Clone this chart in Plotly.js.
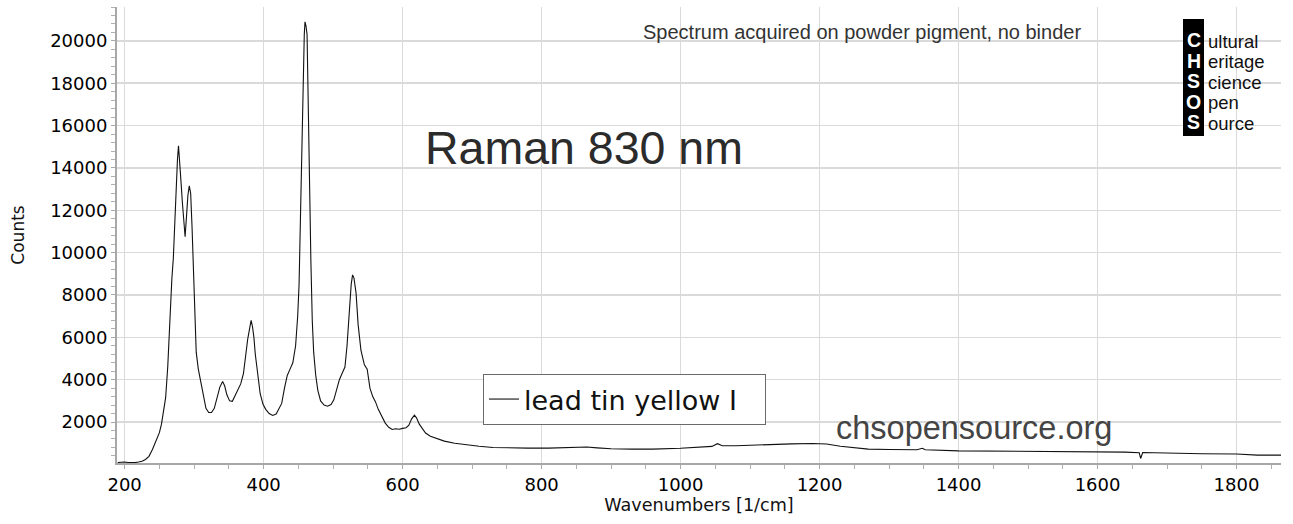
<!DOCTYPE html>
<html>
<head>
<meta charset="utf-8">
<script src="https://cdn.plot.ly/plotly-3.0.1.min.js"></script>
<style>
  html, body {margin: 0; padding: 0; background: #fff;}
  #chart {width: 1293px; height: 524px;}
</style>
</head>
<body>
<div id="chart"></div>
<script>
// Raman spectrum of lead tin yellow I
const wavenumbers = [
  190, 195, 200, 205, 210, 215, 220, 225, 230, 235, 240, 245, 250, 253, 256,
  259, 262, 264, 266, 268, 270, 272, 274, 276, 277.5, 279, 281, 283, 285, 287,
  289, 291, 293, 295, 297, 299, 301, 303, 306, 309, 313, 317, 321, 325, 329,
  333, 337, 341, 344, 347, 351, 355, 359, 363, 367, 371, 374, 377, 380, 382,
  384, 386, 388, 391, 395, 399, 403, 408, 413, 418, 422, 426, 430, 434, 438,
  442, 446, 449, 451, 453, 455, 457, 458.5, 459.5, 461, 462.5, 464, 466, 468,
  470, 472, 475, 478, 482, 487, 492, 497, 501, 505, 509, 513, 517, 520, 523,
  526, 528, 530, 533, 536, 540, 545, 549, 553, 557, 561, 565, 570, 575, 580,
  585, 590, 595, 600, 605, 609, 613, 617, 620, 624, 628, 633, 640, 650, 660,
  675, 690, 710, 730, 750, 780, 810, 840, 865, 880, 900, 930, 960, 1000, 1030,
  1045, 1053, 1060, 1080, 1100, 1130, 1160, 1190, 1210, 1230, 1250, 1270,
  1300, 1340, 1348, 1352, 1400, 1450, 1500, 1550, 1600, 1640, 1660, 1662,
  1665, 1700, 1750, 1800, 1830, 1864
];
const counts = [
  90, 110, 115, 90, 70, 85, 110, 150, 230, 380, 700, 1150, 1500, 1900, 2600,
  3150, 4600, 6000, 7700, 8800, 9700, 11500, 12900, 14400, 15050, 14500, 13400,
  12400, 11300, 10750, 11700, 12700, 13150, 12800, 11200, 9000, 6800, 5300,
  4500, 3950, 3200, 2650, 2450, 2450, 2650, 3100, 3650, 3920, 3700, 3300, 3000,
  2980, 3250, 3600, 3800, 4300, 5200, 5900, 6450, 6800, 6500, 6000, 5200, 4400,
  3350, 2850, 2600, 2400, 2310, 2380, 2600, 2880, 3600, 4200, 4500, 4800, 5600,
  7000, 8500, 12000, 15500, 18300, 20300, 20900, 20700, 20300, 17000, 13000,
  9600, 6800, 5300, 4200, 3500, 3000, 2800, 2750, 2830, 3050, 3500, 4000, 4300,
  4600, 5600, 7100, 8500, 8950, 8800, 8100, 6600, 5400, 4700, 4500, 3600, 3200,
  2950, 2600, 2250, 1950, 1750, 1650, 1680, 1660, 1700, 1730, 1850, 2150, 2330,
  2200, 1900, 1700, 1480, 1330, 1200, 1100, 1000, 930, 860, 800, 780, 770, 770,
  790, 820, 780, 740, 720, 720, 760, 810, 850, 980, 880, 880, 910, 950, 970,
  990, 960, 860, 780, 720, 700, 690, 760, 690, 640, 630, 620, 610, 600, 580,
  550, 280, 560, 530, 500, 490, 440, 440
];

const seriesName = 'lead tin yellow I';
const logoInitials = ['C', 'H', 'S', 'O', 'S'];
const logoWords = ['ultural', 'eritage', 'cience', 'pen', 'ource'];

// plot area in pixels, used to place the free text in paper coordinates
const plotLeft = 117, plotRight = 1281, plotTop = 7, plotBottom = 463;
const px = x => (x - plotLeft) / (plotRight - plotLeft);
const py = y => (plotBottom - y) / (plotBottom - plotTop);

const verdana = 'DejaVu Sans, Verdana, sans-serif';
const arial = 'Liberation Sans, Arial, sans-serif';
const tickFont = {family: verdana, size: 18, color: '#000'};

const trace = {
  x: wavenumbers,
  y: counts,
  name: seriesName,
  mode: 'lines',
  line: {color: '#111', width: 1.1},
  showlegend: true,
};

let annotations = [
  {
    x: px(641), y: py(32), xref: 'paper', yref: 'paper',
    xanchor: 'left', yanchor: 'middle', showarrow: false,
    text: 'Spectrum acquired on powder pigment, no binder',
    font: {family: arial, size: 20, color: '#333'},
  },
  {
    x: px(423), y: py(148), xref: 'paper', yref: 'paper',
    xanchor: 'left', yanchor: 'middle', showarrow: false,
    text: 'Raman 830 nm',
    font: {family: arial, size: 46.5, color: '#2b2b2b'},
  },
  {
    x: px(834), y: py(428), xref: 'paper', yref: 'paper',
    xanchor: 'left', yanchor: 'middle', showarrow: false,
    text: 'chsopensource.org',
    font: {family: arial, size: 32.5, color: '#444'},
  },
];

// CHSOS logo: white initials on a black bar, words to the right
const logoRows = [40, 60.5, 81, 101.5, 122];
for (let i = 0; i < logoInitials.length; i++) {
  annotations.push({
    x: px(1193.5), y: py(logoRows[i]), xref: 'paper', yref: 'paper',
    xanchor: 'center', yanchor: 'middle', showarrow: false,
    text: '<b>' + logoInitials[i] + '</b>',
    font: {family: arial, size: 19.5, color: '#fff'},
  });
  annotations.push({
    x: px(1206), y: py(logoRows[i] + 1), xref: 'paper', yref: 'paper',
    xanchor: 'left', yanchor: 'middle', showarrow: false,
    text: logoWords[i],
    font: {family: arial, size: 18.5, color: '#111'},
  });
}

const layout = {
  width: 1293,
  height: 524,
  margin: {l: plotLeft, r: 1293 - plotRight, t: plotTop, b: 524 - plotBottom},
  paper_bgcolor: '#fff',
  plot_bgcolor: '#fff',
  xaxis: {
    range: [189, 1864],
    dtick: 200,
    tick0: 0,
    tickformat: 'd',
    showgrid: true,
    gridcolor: '#dadada',
    gridwidth: 1.5,
    zeroline: false,
    showline: true,
    linecolor: '#a8a8a8',
    linewidth: 2,
    ticks: 'outside',
    ticklen: 4,
    tickcolor: '#a8a8a8',
    tickfont: tickFont,
    minor: {dtick: 50, ticks: 'outside', ticklen: 4, tickcolor: '#b0b0b0', showgrid: false},
    title: {text: 'Wavenumbers [1/cm]', font: {family: verdana, size: 17.6, color: '#111'}, standoff: 5},
  },
  yaxis: {
    range: [66, 21600],
    dtick: 2000,
    tick0: 0,
    tickformat: 'd',
    showgrid: true,
    gridcolor: '#dadada',
    gridwidth: 1.5,
    zeroline: false,
    showline: true,
    linecolor: '#a8a8a8',
    linewidth: 2,
    ticks: 'outside',
    ticklen: 4,
    tickcolor: '#a8a8a8',
    tickfont: tickFont,
    minor: {dtick: 400, ticks: 'outside', ticklen: 4, tickcolor: '#b0b0b0', showgrid: false},
    title: {text: 'Counts', font: {family: verdana, size: 17, color: '#111'}, standoff: 21},
  },
  showlegend: true,
  legend: {
    x: px(483), y: py(374), xanchor: 'left', yanchor: 'top',
    orientation: 'h',
    entrywidth: 236,
    bgcolor: '#fff',
    bordercolor: '#6a6a6a',
    borderwidth: 1,
    font: {family: verdana, size: 27, color: '#111'},
  },
  shapes: [
    {
      type: 'rect', xref: 'paper', yref: 'paper',
      x0: px(1183), x1: px(1204), y0: py(136), y1: py(19),
      fillcolor: '#000', line: {width: 0}, layer: 'above',
    },
  ],
  annotations: annotations,
};

Plotly.newPlot('chart', [trace], layout, {displayModeBar: false, staticPlot: true});
</script>
</body>
</html>
